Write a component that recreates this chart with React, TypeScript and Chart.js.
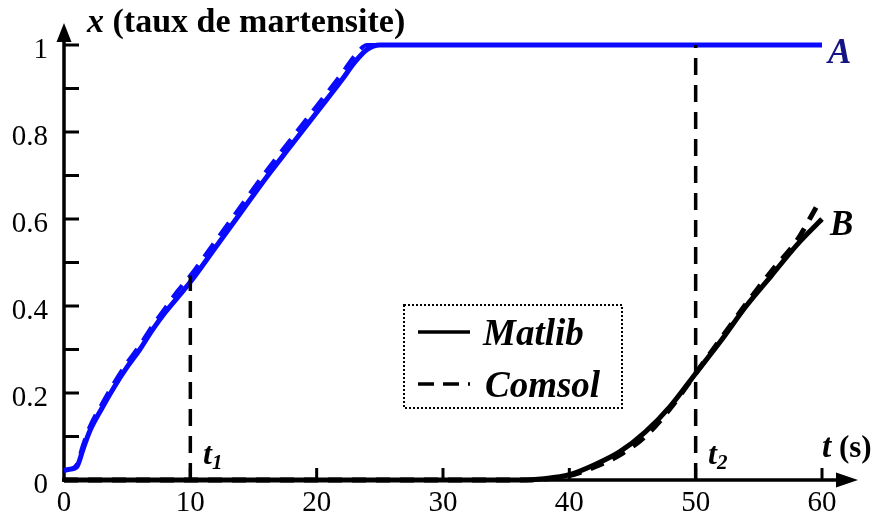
import { useEffect, useRef } from 'react';
import { Chart, registerables } from 'chart.js';

Chart.register(...registerables);

const SERIF = '"Liberation Serif", "Times New Roman", serif';

// ---- data ----
const tA = [0, 0.5, 1, 1.5, 2, 3, 4, 5, 6, 7, 8, 9, 10, 12, 14, 16, 18, 20, 22, 23, 24, 25, 30, 40, 50, 60];
const matlibA = [0.022, 0.025, 0.03, 0.07, 0.11, 0.165, 0.215, 0.26, 0.3, 0.345, 0.385, 0.42, 0.455, 0.535, 0.615, 0.695, 0.77, 0.845, 0.92, 0.96, 0.99, 1, 1, 1, 1, 1];
const comsolA = [0.022, 0.025, 0.035, 0.08, 0.12, 0.175, 0.225, 0.27, 0.31, 0.355, 0.395, 0.435, 0.47, 0.55, 0.63, 0.71, 0.785, 0.86, 0.935, 0.975, 1, 1, 1, 1, 1, 1];
const tB = [0, 10, 20, 30, 36, 38, 40, 42, 44, 46, 48, 50, 52, 54, 56, 58, 60];
const matlibB = [0, 0, 0, 0, 0, 0.003, 0.012, 0.035, 0.065, 0.11, 0.17, 0.245, 0.32, 0.4, 0.47, 0.54, 0.6];
const tBc = [0, 10, 20, 30, 36, 38, 40, 42, 44, 46, 48, 50, 52, 54, 56, 58, 59.6];
const comsolB = [0, 0, 0, 0, 0, 0.002, 0.01, 0.03, 0.058, 0.1, 0.165, 0.245, 0.325, 0.405, 0.48, 0.55, 0.63];
const markT = [10, 50];
const markTop = [0.47, 1];
const yTickLabels = ['0', '0.2', '0.4', '0.6', '0.8', '1'];
const xTickLabels = ['0', '10', '20', '30', '40', '50', '60'];
const yMinorTicks = [0.1, 0.2, 0.3, 0.4, 0.5, 0.6, 0.7, 0.8, 0.9, 1];
const xMajorTicks = [10, 20, 30, 40, 50, 60];

const pts = (xs: number[], ys: number[]) => xs.map((x, i) => ({ x, y: ys[i] }));

export default function App() {
  const ref = useRef<HTMLCanvasElement>(null);
  useEffect(() => {
    if (!ref.current) return;

    const axesPlugin = {
      id: 'axesDraw',
      beforeDatasetsDraw(chart: any) {
        const { ctx, scales } = chart;
        const x = scales.x, y = scales.y;
        const x0 = x.getPixelForValue(0);
        const y0 = y.getPixelForValue(0);
        ctx.save();
        ctx.strokeStyle = '#000';
        ctx.fillStyle = '#000';
        ctx.lineWidth = 3.5;
        ctx.beginPath();
        ctx.moveTo(x0, y0 + 2);
        ctx.lineTo(x0, 36);
        ctx.stroke();
        ctx.beginPath();
        ctx.moveTo(x0 - 2, y0);
        ctx.lineTo(842, y0);
        ctx.stroke();
        ctx.beginPath();
        ctx.moveTo(x0, 23);
        ctx.lineTo(x0 - 7.5, 42);
        ctx.lineTo(x0 + 7.5, 42);
        ctx.closePath();
        ctx.fill();
        ctx.beginPath();
        ctx.moveTo(858, y0);
        ctx.lineTo(836, y0 - 7.5);
        ctx.lineTo(836, y0 + 7.5);
        ctx.closePath();
        ctx.fill();
        ctx.lineWidth = 3;
        for (const v of yMinorTicks) {
          const py = y.getPixelForValue(v);
          ctx.beginPath();
          ctx.moveTo(x0, py);
          ctx.lineTo(x0 + 15, py);
          ctx.stroke();
        }
        for (const v of xMajorTicks) {
          const px = x.getPixelForValue(v);
          ctx.beginPath();
          ctx.moveTo(px, y0);
          ctx.lineTo(px, y0 - 12);
          ctx.stroke();
        }
        ctx.restore();
      },
    };

    const textPlugin = {
      id: 'textDraw',
      afterDatasetsDraw(chart: any) {
        const { ctx } = chart;
        ctx.save();
        ctx.fillStyle = '#000';
        ctx.textBaseline = 'alphabetic';
        ctx.textAlign = 'left';
        // title
        ctx.font = `italic bold 34px ${SERIF}`;
        ctx.fillText('x', 87, 32);
        const wx = ctx.measureText('x').width;
        ctx.font = `bold 34px ${SERIF}`;
        ctx.fillText(' (taux de martensite)', 87 + wx, 32);
        // t (s)
        ctx.font = `italic bold 33px ${SERIF}`;
        ctx.fillText('t', 822, 457);
        const wt = ctx.measureText('t').width;
        ctx.font = `bold 31px ${SERIF}`;
        ctx.fillText(' (s)', 822 + wt, 457);
        // t1, t2
        const sub = (label: string, s: string, px: number, py: number) => {
          ctx.font = `italic bold 32px ${SERIF}`;
          ctx.fillText(label, px, py);
          const w = ctx.measureText(label).width;
          ctx.font = `italic bold 21px ${SERIF}`;
          ctx.fillText(s, px + w, py + 5);
        };
        sub('t', '1', 203, 464);
        sub('t', '2', 708, 464);
        // A, B
        ctx.font = `italic bold 35px ${SERIF}`;
        ctx.fillStyle = '#141485';
        ctx.fillText('A', 828, 63);
        ctx.fillStyle = '#000';
        ctx.fillText('B', 830, 235);
        // legend box
        ctx.lineWidth = 2;
        ctx.setLineDash([2, 2]);
        ctx.strokeRect(404, 305, 218, 103);
        ctx.setLineDash([]);
        ctx.lineWidth = 3.5;
        ctx.beginPath();
        ctx.moveTo(418, 332);
        ctx.lineTo(470, 332);
        ctx.stroke();
        ctx.setLineDash([16, 9]);
        ctx.beginPath();
        ctx.moveTo(418, 384);
        ctx.lineTo(470, 384);
        ctx.stroke();
        ctx.setLineDash([]);
        ctx.font = `italic bold 37px ${SERIF}`;
        ctx.fillText('Matlib', 483, 345);
        ctx.fillText('Comsol', 485, 397);
        ctx.restore();
      },
    };

    const blue = '#0a0aff';
    const chart = new Chart(ref.current, {
      type: 'line',
      data: {
        datasets: [
          { label: 'mark1', data: [{ x: markT[0], y: 0 }, { x: markT[0], y: markTop[0] }], borderColor: '#000', borderWidth: 3.5, borderDash: [17, 10], pointRadius: 0, clip: false } as any,
          { label: 'mark2', data: [{ x: markT[1], y: 0 }, { x: markT[1], y: markTop[1] }], borderColor: '#000', borderWidth: 3.5, borderDash: [17, 10], pointRadius: 0, clip: false } as any,
          { label: 'Matlib A', data: pts(tA, matlibA), borderColor: blue, borderWidth: 5, pointRadius: 0, cubicInterpolationMode: 'monotone', clip: false } as any,
          { label: 'Comsol A', data: pts(tA, comsolA), borderColor: blue, borderWidth: 4, borderDash: [16, 10], pointRadius: 0, cubicInterpolationMode: 'monotone', clip: false } as any,
          { label: 'Matlib B', data: pts(tB, matlibB), borderColor: '#000', borderWidth: 5, pointRadius: 0, cubicInterpolationMode: 'monotone', clip: false } as any,
          { label: 'Comsol B', data: pts(tBc, comsolB), borderColor: '#000', borderWidth: 5, borderDash: [14, 10], pointRadius: 0, cubicInterpolationMode: 'monotone', clip: false } as any,
        ],
      },
      options: {
        responsive: false,
        animation: false,
        layout: { padding: { top: 45, right: 58, left: 0, bottom: 0 } },
        plugins: { legend: { display: false }, tooltip: { enabled: false } },
        scales: {
          x: {
            type: 'linear',
            min: 0,
            max: 60,
            grid: { display: false, drawTicks: false },
            border: { display: false },
            ticks: {
              stepSize: 10,
              color: '#000',
              padding: 6,
              font: { family: SERIF, size: 29 },
              callback: (_v: any, i: number) => xTickLabels[i],
            },
            afterFit(s: any) { s.height = 35; },
          },
          y: {
            min: 0,
            max: 1,
            grid: { display: false, drawTicks: false },
            border: { display: false },
            ticks: {
              stepSize: 0.2,
              color: '#000',
              padding: 16,
              labelOffset: 5,
              font: { family: SERIF, size: 29 },
              callback: (_v: any, i: number) => yTickLabels[i],
            },
            afterFit(s: any) { s.width = 64; },
          },
        },
      },
      plugins: [axesPlugin, textPlugin],
    } as any);
    return () => chart.destroy();
  }, []);

  return (
    <div style={{ position: 'fixed', left: 0, top: 0, width: 880, height: 515, background: '#fff' }}>
      <canvas ref={ref} width={880} height={515} />
    </div>
  );
}
